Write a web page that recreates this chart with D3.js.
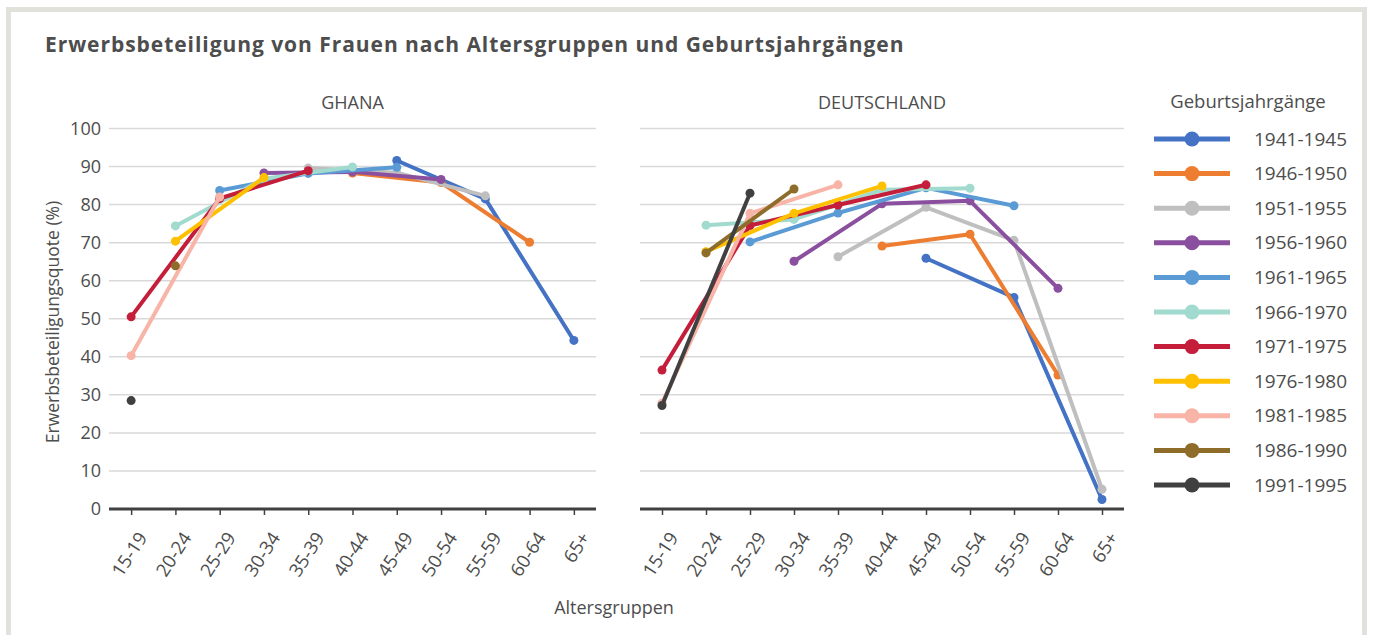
<!DOCTYPE html>
<html>
<head>
<meta charset="utf-8">
<script src="https://cdn.jsdelivr.net/npm/d3@7"></script>
<style>
  body { margin: 0; background: #fff; }
  svg text { font-family: "Open Sans", "Noto Sans", sans-serif; fill: #4d4d4d; }
</style>
</head>
<body>
<div class="canvas"></div>
<script>
const ageGroups = ["15-19", "20-24", "25-29", "30-34", "35-39", "40-44", "45-49", "50-54", "55-59", "60-64", "65+"];
const cohorts = ["1941-1945", "1946-1950", "1951-1955", "1956-1960", "1961-1965", "1966-1970",
  "1971-1975", "1976-1980", "1981-1985", "1986-1990", "1991-1995"];
const colors = ["#4472c4", "#ed7d31", "#bfbfbf", "#8a4f9e", "#5b9bd5", "#a1dace",
  "#c41e3a", "#ffc000", "#f7b4a7", "#8e6c2a", "#404040"];
const yTicks = [0, 10, 20, 30, 40, 50, 60, 70, 80, 90, 100];

// one row per cohort, one value per age group (null = no data)
const ghanaValues = [
  [null, null, null, null, null, null, 91.6, null, 81.5, null, 44.3],
  [null, null, null, null, null, 88.3, null, 85.8, null, 70.1, null],
  [null, null, null, null, 89.6, null, 88.4, null, 82.3, null, null],
  [null, null, null, 88.3, null, 88.6, null, 86.6, null, null, null],
  [null, null, 83.7, null, 88.2, null, 89.8, null, null, null, null],
  [null, 74.4, null, 86.8, null, 89.9, null, null, null, null, null],
  [50.5, null, 81.6, null, 88.9, null, null, null, null, null, null],
  [null, 70.4, null, 87.1, null, null, null, null, null, null, null],
  [40.3, null, 82.0, null, null, null, null, null, null, null, null],
  [null, 63.9, null, null, null, null, null, null, null, null, null],
  [28.5, null, null, null, null, null, null, null, null, null, null]
];
const germanyValues = [
  [null, null, null, null, null, null, 65.9, null, 55.6, null, 2.5],
  [null, null, null, null, null, 69.1, null, 72.2, null, 35.2, null],
  [null, null, null, null, 66.3, null, 79.3, null, 70.6, null, 5.2],
  [null, null, null, 65.1, null, 80.2, null, 81.0, null, 58.0, null],
  [null, null, 70.2, null, 77.8, null, 84.4, null, 79.7, null, null],
  [null, 74.6, null, 76.1, null, 83.9, null, 84.3, null, null, null],
  [36.5, null, 74.5, null, 79.9, null, 85.2, null, null, null, null],
  [null, 67.6, null, 77.7, null, 84.9, null, null, null, null, null],
  [27.8, null, 77.7, null, 85.2, null, null, null, null, null, null],
  [null, 67.3, null, 84.1, null, null, null, null, null, null, null],
  [27.2, null, 83.0, null, null, null, null, null, null, null, null]
];

const W = 1373, H = 635;
const svg = d3.select(".canvas").append("svg").attr("width", W).attr("height", H);

// light frame
svg.append("rect")
  .attr("x", 8.5).attr("y", 9.5).attr("width", 1356).attr("height", 640)
  .attr("fill", "#fff").attr("stroke", "#e2e2dd").attr("stroke-width", 5);

svg.append("text")
  .attr("x", 45).attr("y", 52)
  .attr("font-size", 21).attr("font-weight", "bold").attr("letter-spacing", 0.95)
  .text("Erwerbsbeteiligung von Frauen nach Altersgruppen und Geburtsjahrgängen");

const y = d3.scaleLinear().domain([0, 100]).range([509, 128.5]);

const panels = [
  { name: "GHANA", values: ghanaValues, range: [109, 596], yLabels: true },
  { name: "DEUTSCHLAND", values: germanyValues, range: [640, 1124], yLabels: false }
];

panels.forEach((p) => {
  const x = d3.scalePoint().domain(ageGroups).range(p.range).padding(0.5);
  const g = svg.append("g");

  // gridlines
  g.selectAll(".grid").data(yTicks.filter((t) => t > 0)).enter().append("line")
    .attr("x1", p.range[0]).attr("x2", p.range[1])
    .attr("y1", (d) => y(d)).attr("y2", (d) => y(d))
    .attr("stroke", "#d9d9d9").attr("stroke-width", 1.5);

  if (p.yLabels) {
    g.selectAll(".ylab").data(yTicks).enter().append("text")
      .attr("x", 101).attr("y", (d) => y(d)).attr("dy", "0.35em")
      .attr("text-anchor", "end").attr("font-size", 18)
      .text((d) => d);
  }

  // x axis
  const xAxis = g.append("g").attr("transform", `translate(0,${y(0)})`)
    .call(d3.axisBottom(x).tickSize(6).tickSizeOuter(0));
  xAxis.select(".domain").attr("stroke", "#404040").attr("stroke-width", 3)
    .attr("d", `M${p.range[0]},0H${p.range[1]}`);
  xAxis.selectAll(".tick line").attr("stroke", "#404040").attr("stroke-width", 1.5);
  xAxis.selectAll(".tick text")
    .attr("font-size", 18.5).attr("font-family", null).attr("fill", "#4d4d4d")
    .attr("text-anchor", "end")
    .attr("transform", "translate(11,25) rotate(-57)")
    .attr("x", 0).attr("y", 0).attr("dy", "0.35em");

  g.append("text")
    .attr("x", (p.range[0] + p.range[1]) / 2).attr("y", 109)
    .attr("text-anchor", "middle").attr("font-size", 18)
    .text(p.name);

  const line = d3.line()
    .x((d) => x(d.age))
    .y((d) => y(d.value));

  p.values.forEach((row, i) => {
    const pts = row.map((v, j) => ({ age: ageGroups[j], value: v })).filter((d) => d.value !== null);
    const s = g.append("g");
    s.append("path")
      .attr("d", line(pts))
      .attr("fill", "none").attr("stroke", colors[i]).attr("stroke-width", 4)
      .attr("stroke-linejoin", "round");
    s.selectAll("circle").data(pts).enter().append("circle")
      .attr("cx", (d) => x(d.age)).attr("cy", (d) => y(d.value))
      .attr("r", 4.5).attr("fill", colors[i]);
  });
});

// y axis title
svg.append("text")
  .attr("transform", "translate(59,322) rotate(-90)")
  .attr("text-anchor", "middle").attr("font-size", 17.5)
  .text("Erwerbsbeteiligungsquote (%)");

// x axis title
svg.append("text")
  .attr("x", 614).attr("y", 614)
  .attr("text-anchor", "middle").attr("font-size", 18)
  .text("Altersgruppen");

// legend
const legend = svg.append("g");
legend.append("text")
  .attr("x", 1248).attr("y", 108)
  .attr("text-anchor", "middle").attr("font-size", 18.5)
  .text("Geburtsjahrgänge");

const item = legend.selectAll(".item").data(cohorts).enter().append("g")
  .attr("transform", (d, i) => `translate(0,${139 + i * 34.6})`);
item.append("line")
  .attr("x1", 1154).attr("x2", 1230)
  .attr("stroke", (d, i) => colors[i]).attr("stroke-width", 5);
item.append("circle")
  .attr("cx", 1192).attr("r", 7.5)
  .attr("fill", (d, i) => colors[i]);
item.append("text")
  .attr("x", 1254).attr("dy", "0.35em").attr("font-size", 19)
  .text((d) => d);
</script>
</body>
</html>
